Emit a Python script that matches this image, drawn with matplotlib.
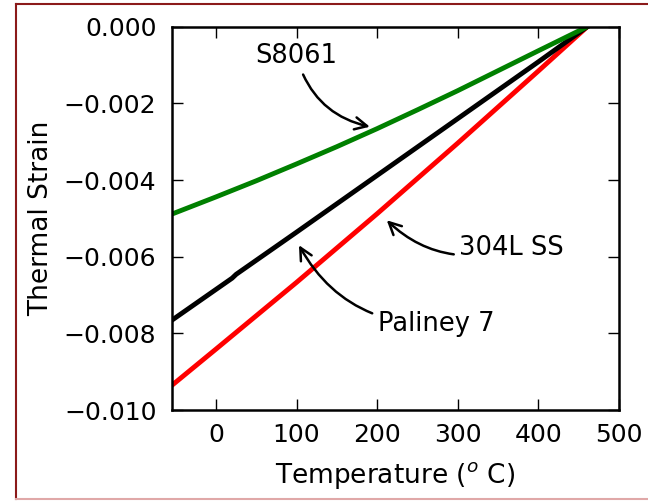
import matplotlib
matplotlib.use("Agg")
import matplotlib.pyplot as plt
from matplotlib.lines import Line2D

# Temperatures (C) and thermal strain
temp_s8061 = [-55, 0, 50, 100, 150, 200, 250, 300, 350, 400, 461]
strain_s8061 = [-0.00489, -0.00444, -0.00402, -0.00358, -0.00313, -0.00266,
                -0.00217, -0.00167, -0.00115, -0.00063, 0.0]

temp_paliney = [-55, 20, 25, 100, 200, 300, 400, 461]
strain_paliney = [-0.00766, -0.00656, -0.00646, -0.00536, -0.00388, -0.00240, -0.00092, 0.0]

temp_304l = [-55, 0, 100, 200, 300, 400, 461]
strain_304l = [-0.00936, -0.00841, -0.00667, -0.00488, -0.00304, -0.00116, 0.0]

fig = plt.figure(figsize=(6.48, 5.01), dpi=100)
ax = fig.add_axes([0.265, 0.1816, 0.6898, 0.7651])

ax.plot(temp_304l, strain_304l, color='red', lw=3.5)
ax.plot(temp_paliney, strain_paliney, color='black', lw=3.5)
ax.plot(temp_s8061, strain_s8061, color='green', lw=3.5)

ax.set_xlim(-55, 500)
ax.set_ylim(-0.010, 0.0)
ax.set_xticks([0, 100, 200, 300, 400, 500])
ax.set_yticks([-0.010, -0.008, -0.006, -0.004, -0.002, 0.0])

ax.tick_params(direction='in', length=8, width=1, labelsize=18,
               top=True, right=True)
ax.tick_params(axis='x', pad=9)
ax.tick_params(axis='y', pad=11)
for sp in ax.spines.values():
    sp.set_linewidth(1.8)

ax.set_xlabel(r'Temperature ($^o$ C)', fontsize=19, labelpad=10)
ax.set_ylabel('Thermal Strain', fontsize=19, labelpad=7)

arrow = dict(arrowstyle='->', lw=1.8, color='black', shrinkB=0, mutation_scale=22)
ax.annotate('S8061', xy=(191, -0.00261), xytext=(100, -0.00077),
            fontsize=18.5, ha='center', va='center',
            arrowprops=dict(arrow, connectionstyle='arc3,rad=0.3'))
ax.annotate('304L SS', xy=(212, -0.00505), xytext=(367, -0.00577),
            fontsize=18.5, ha='center', va='center',
            arrowprops=dict(arrow, connectionstyle='arc3,rad=-0.3'))
ax.annotate('Paliney 7', xy=(103, -0.00570), xytext=(273, -0.00776),
            fontsize=18.5, ha='center', va='center',
            arrowprops=dict(arrow, connectionstyle='arc3,rad=-0.3'))

# frame around the picture
fig.add_artist(Line2D([15.5 / 648, 15.5 / 648], [2 / 501, 497.5 / 501],
                      color='#8b1a1a', lw=1.5))
fig.add_artist(Line2D([15.5 / 648, 1.0], [497.5 / 501, 497.5 / 501],
                      color='#8b1a1a', lw=1.5))
fig.add_artist(Line2D([15.5 / 648, 1.0], [2 / 501, 2 / 501],
                      color='#e0a8a8', lw=1.5))

fig.savefig('out.png', dpi=100)
